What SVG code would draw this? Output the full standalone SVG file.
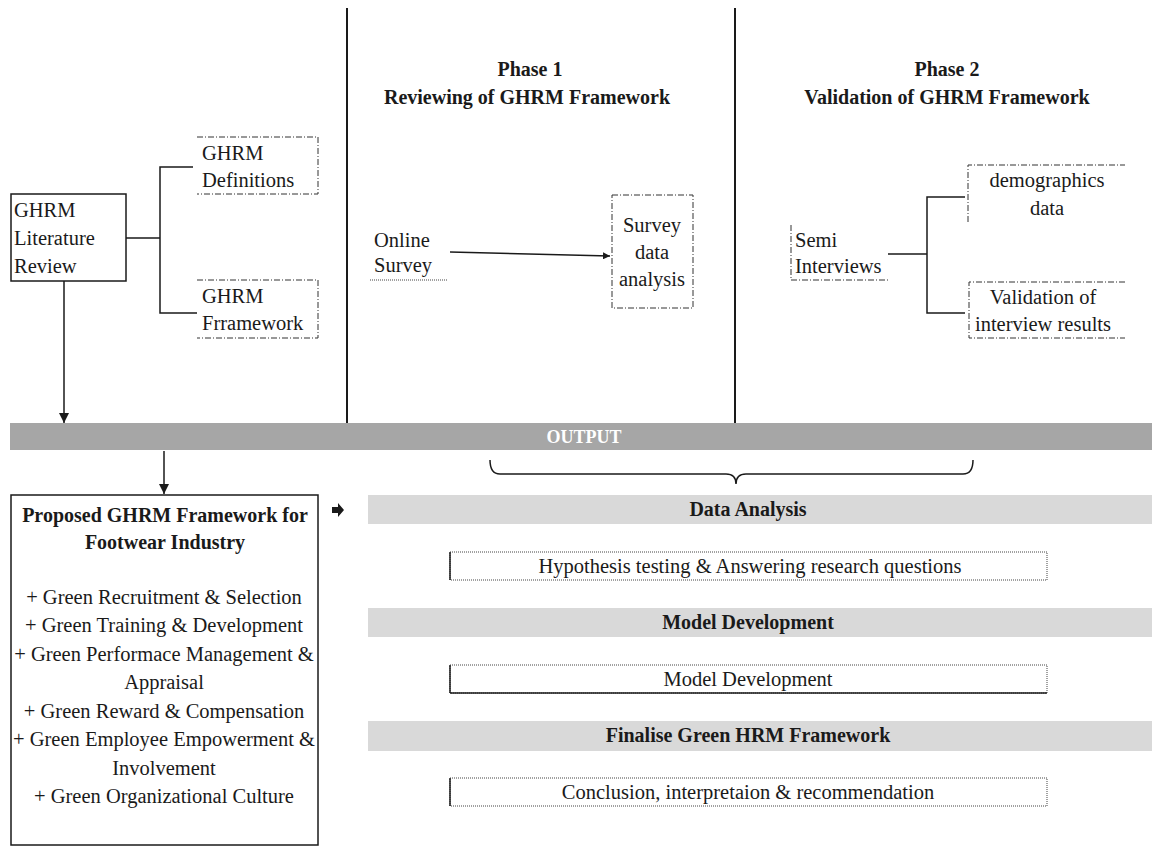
<svg xmlns="http://www.w3.org/2000/svg" width="1152" height="846" viewBox="0 0 1152 846">
<style>
text{font-family:"Liberation Serif","Times New Roman",serif;font-size:20.5px;fill:#1a1a1a}
.b{font-weight:bold;font-size:20px}
.m{text-anchor:middle}
.ln{stroke:#1a1a1a;stroke-width:1.5;fill:none}
.th{stroke:#1a1a1a;stroke-width:2;fill:none}
.dd{stroke:#333;stroke-width:1;fill:none;stroke-dasharray:6 2 1 2}
.dot{stroke:#444;stroke-width:1;fill:none;stroke-dasharray:1 1}
</style>
<defs>
<marker id="ah" viewBox="0 0 10 10" refX="10" refY="5" markerWidth="7" markerHeight="7" markerUnits="userSpaceOnUse" orient="auto">
<path d="M0,0 L10,5 L0,10 z" fill="#1a1a1a"/>
</marker>
<marker id="ah2" viewBox="0 0 10 10" refX="10" refY="5" markerWidth="10" markerHeight="10" markerUnits="userSpaceOnUse" orient="auto">
<path d="M0,0 L10,5 L0,10 z" fill="#1a1a1a"/>
</marker>
</defs>
<rect width="1152" height="846" fill="#fff"/>

<g id="dividers">
<line x1="347" y1="8" x2="347" y2="423" class="th"/>
<line x1="735" y1="8" x2="735" y2="423" class="th"/>
</g>

<g id="phase1-title">
<text x="530" y="76" class="b m">Phase 1</text>
<text x="527" y="104" class="b m">Reviewing of GHRM Framework</text>
</g>
<g id="phase2-title">
<text x="947" y="76" class="b m">Phase 2</text>
<text x="947" y="104" class="b m">Validation of GHRM Framework</text>
</g>

<g id="lit-review">
<rect x="11" y="194" width="115" height="87" fill="#fff" stroke="#1a1a1a" stroke-width="1.5"/>
<text x="14" y="217">GHRM</text>
<text x="14" y="245">Literature</text>
<text x="14" y="273">Review</text>
</g>
<g id="ghrm-definitions">
<path d="M197,137 H318 V194 H197" class="dd"/>
<text x="202" y="160">GHRM</text>
<text x="202" y="187">Definitions</text>
</g>
<g id="ghrm-framework">
<path d="M197,280 H318 V338 H197" class="dd"/>
<text x="202" y="303">GHRM</text>
<text x="202" y="330">Frramework</text>
</g>

<g id="online-survey">
<text x="374" y="247">Online</text>
<text x="374" y="272">Survey</text>
<line x1="370" y1="280" x2="447" y2="280" class="dot"/>
</g>
<g id="survey-analysis">
<rect x="612" y="195" width="81" height="113" class="dd"/>
<text x="652" y="232" class="m">Survey</text>
<text x="652" y="259" class="m">data</text>
<text x="652" y="286" class="m">analysis</text>
</g>

<g id="semi-interviews">
<path d="M791,225 V280 H888" class="dd"/>
<text x="795" y="247">Semi</text>
<text x="795" y="273">Interviews</text>
</g>
<g id="demographics">
<path d="M968,222 V165 H1125" class="dd"/>
<text x="1047" y="187" class="m">demographics</text>
<text x="1047" y="215" class="m">data</text>
</g>
<g id="validation">
<path d="M1125,282 H969 V338 H1125" class="dd"/>
<text x="1043" y="304" class="m">Validation of</text>
<text x="1043" y="331" class="m">interview results</text>
</g>

<g id="output-bar">
<rect x="10" y="423" width="1142" height="27" fill="#a6a6a6"/>
<text x="584" y="443" class="b m" style="fill:#fff;font-size:18px">OUTPUT</text>
</g>

<g id="proposed-framework">
<rect x="11" y="495" width="307" height="350" fill="#fff" stroke="#1a1a1a" stroke-width="1.5"/>
<text x="165" y="522" class="b m">Proposed GHRM Framework for</text>
<text x="165" y="549" class="b m">Footwear Industry</text>
<text x="164" y="604" class="m">+ Green Recruitment &amp; Selection</text>
<text x="164" y="632" class="m">+ Green Training &amp; Development</text>
<text x="164" y="661" class="m">+ Green Performace Management &amp;</text>
<text x="164" y="689" class="m">Appraisal</text>
<text x="164" y="718" class="m">+ Green Reward &amp; Compensation</text>
<text x="164" y="746" class="m">+ Green Employee Empowerment &amp;</text>
<text x="164" y="775" class="m">Involvement</text>
<text x="164" y="803" class="m">+ Green Organizational Culture</text>
</g>

<g id="block-arrow">
<path d="M332,507 H338 V503 L344,510 L338,517 V513 H332 Z" fill="#1a1a1a"/>
</g>

<g id="data-analysis">
<rect x="368" y="495" width="784" height="29" fill="#d9d9d9"/>
<text x="748" y="516" class="b m">Data Analysis</text>
</g>
<g id="hypothesis">
<rect x="450" y="552" width="597" height="28" class="dot"/>
<line x1="450" y1="552" x2="450" y2="580" class="ln" stroke-width="1"/>
<text x="750" y="573" class="m">Hypothesis testing &amp; Answering research questions</text>
</g>
<g id="model-dev-header">
<rect x="368" y="608" width="784" height="29" fill="#d9d9d9"/>
<text x="748" y="629" class="b m">Model Development</text>
</g>
<g id="model-dev">
<rect x="450" y="665" width="597" height="28" class="dot"/>
<line x1="450" y1="665" x2="450" y2="693" class="ln" stroke-width="1"/>
<line x1="450" y1="693" x2="1047" y2="693" class="ln" stroke-width="1"/>
<text x="748" y="686" class="m">Model Development</text>
</g>
<g id="finalise-header">
<rect x="368" y="721" width="784" height="30" fill="#d9d9d9"/>
<text x="748" y="742" class="b m">Finalise Green HRM Framework</text>
</g>
<g id="conclusion">
<rect x="450" y="778" width="597" height="28" class="dot"/>
<line x1="450" y1="778" x2="450" y2="806" class="ln" stroke-width="1"/>
<text x="748" y="799" class="m">Conclusion, interpretaion &amp; recommendation</text>
</g>

<g id="connectors">
<path d="M126,238 H160 M193,167 H160 V313 H197" class="ln"/>
<line x1="450" y1="252" x2="610" y2="256" class="ln" stroke-width="1" marker-end="url(#ah)"/>
<path d="M888,254 H927 M965,197 H927 V313 H965" class="ln"/>
<line x1="64" y1="281" x2="64" y2="423" class="ln" marker-end="url(#ah2)"/>
<line x1="164" y1="451" x2="164" y2="494" class="ln" marker-end="url(#ah2)"/>
<path d="M490,460 Q490,474 500,474 H726 Q736,474 736,484 Q736,474 746,474 H963 Q973,474 973,460" class="ln" stroke-width="1.2"/>
</g>
</svg>
